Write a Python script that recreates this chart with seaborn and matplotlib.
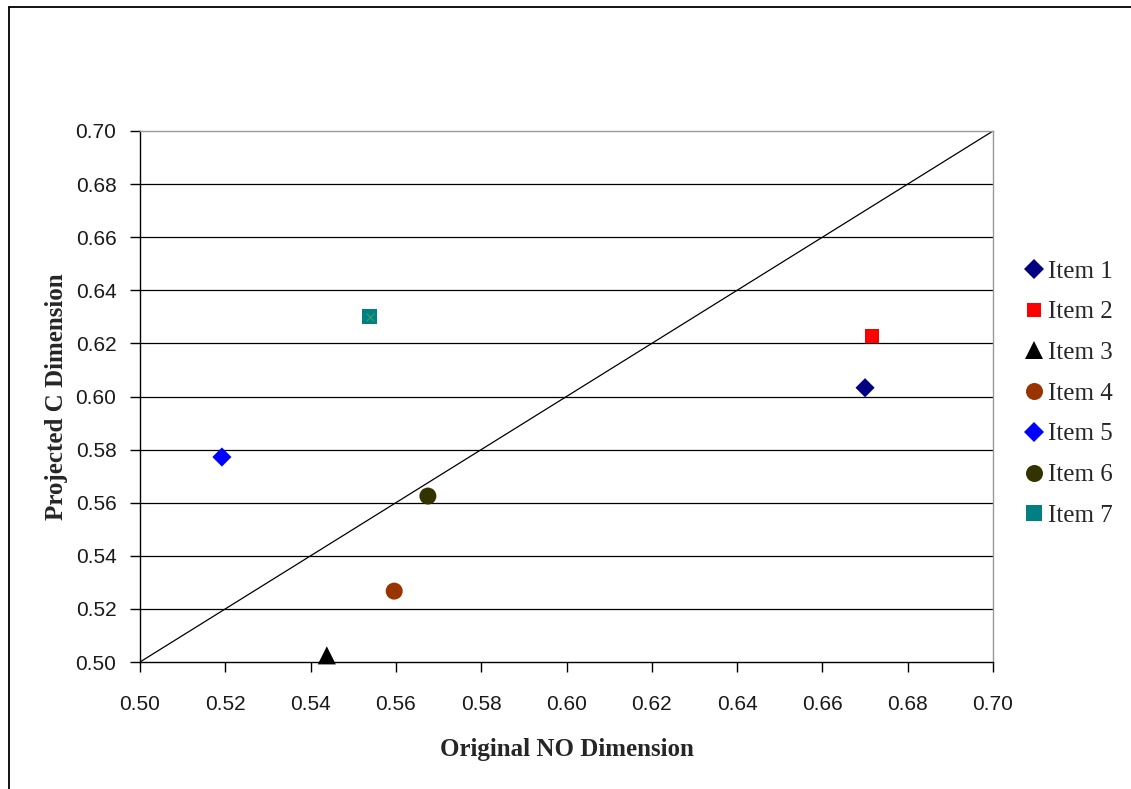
import matplotlib
matplotlib.use("Agg")
import matplotlib.pyplot as plt
from matplotlib.lines import Line2D
import seaborn as sns
import pandas as pd

items = ["Item 1", "Item 2", "Item 3", "Item 4", "Item 5", "Item 6", "Item 7"]
original_no = [0.670, 0.6716, 0.5438, 0.5596, 0.5192, 0.5675, 0.5539]
projected_c = [0.6033, 0.6228, 0.5025, 0.5267, 0.5772, 0.5625, 0.6301]
colors = ["#000080", "#FF0000", "#000000", "#993300", "#0000FF", "#333300", "#008080"]
markers = ["D", "s", "^", "o", "D", "o", "s"]
marker_sizes = [95, 100, 170, 150, 95, 150, 120]
ticks = [0.50, 0.52, 0.54, 0.56, 0.58, 0.60, 0.62, 0.64, 0.66, 0.68, 0.70]
line_x = [0.50, 0.70]
line_y = [0.50, 0.70]

df = pd.DataFrame({"item": items, "x": original_no, "y": projected_c})

sns.set_theme(style="white")
plt.rcParams["font.family"] = ["Liberation Serif", "DejaVu Serif"]

fig = plt.figure(figsize=(11.31, 7.89), dpi=100)
ax = fig.add_axes([140 / 1131, 1 - 662 / 789, 853 / 1131, 531 / 789])

# grid lines
for t in ticks[1:-1]:
    ax.axhline(t, color="black", lw=0.9, zorder=1)

ax.plot(line_x, line_y, color="black", lw=0.9, zorder=2)

sns.scatterplot(
    data=df, x="x", y="y", hue="item", style="item", size="item",
    hue_order=items, style_order=items, size_order=items,
    palette=dict(zip(items, colors)),
    markers=dict(zip(items, markers)),
    sizes=dict(zip(items, marker_sizes)),
    linewidth=0, ax=ax, zorder=3, clip_on=False,
)
# Excel-style cross inside the Item 7 square
sub = df[df["item"] == "Item 7"]
sns.scatterplot(data=sub, x="x", y="y", marker="x", color="#3c9c70", s=30,
                linewidth=0.8, ax=ax, zorder=4, legend=False)

ax.set_xlim(0.50, 0.70)
ax.set_ylim(0.50, 0.70)
ax.set_xticks(ticks)
ax.set_yticks(ticks)
ax.set_xticklabels([f"{t:.2f}" for t in ticks], family="Liberation Sans", fontsize=15, color="#1a1a1a")
ax.set_yticklabels([f"{t:.2f}" for t in ticks], family="Liberation Sans", fontsize=15, color="#1a1a1a")
ax.tick_params(axis="x", direction="out", length=7, width=1, color="black", pad=17, bottom=True)
ax.tick_params(axis="y", direction="out", length=7, width=1, color="black", pad=10, left=True)

for side in ["left", "bottom"]:
    ax.spines[side].set_color("black")
    ax.spines[side].set_linewidth(1.0)
for side in ["top", "right"]:
    ax.spines[side].set_color("#999999")
    ax.spines[side].set_linewidth(1.0)

ax.set_xlabel("Original NO Dimension", fontsize=18, fontweight="bold")
ax.set_ylabel("Projected C Dimension", fontsize=18, fontweight="bold")
ax.xaxis.set_label_coords(0.5, -0.143)
ax.yaxis.set_label_coords(-0.084, 0.5)

handles, labels = ax.get_legend_handles_labels()
ax.legend(handles, labels, loc="upper left", bbox_to_anchor=(1016 / 1131, 1 - 250 / 789),
          bbox_transform=fig.transFigure, frameon=False, fontsize=18,
          handlelength=0.6, handletextpad=0.3, labelspacing=0.73, borderaxespad=0)

# outer chart border (top and left visible)
fig.add_artist(Line2D([9 / 1131, 1.01], [1 - 7 / 789, 1 - 7 / 789], transform=fig.transFigure,
                      color="black", lw=1.3))
fig.add_artist(Line2D([9 / 1131, 9 / 1131], [1 - 7 / 789, -0.01], transform=fig.transFigure,
                      color="black", lw=1.3))

fig.savefig("out.png", dpi=100, facecolor="white")
